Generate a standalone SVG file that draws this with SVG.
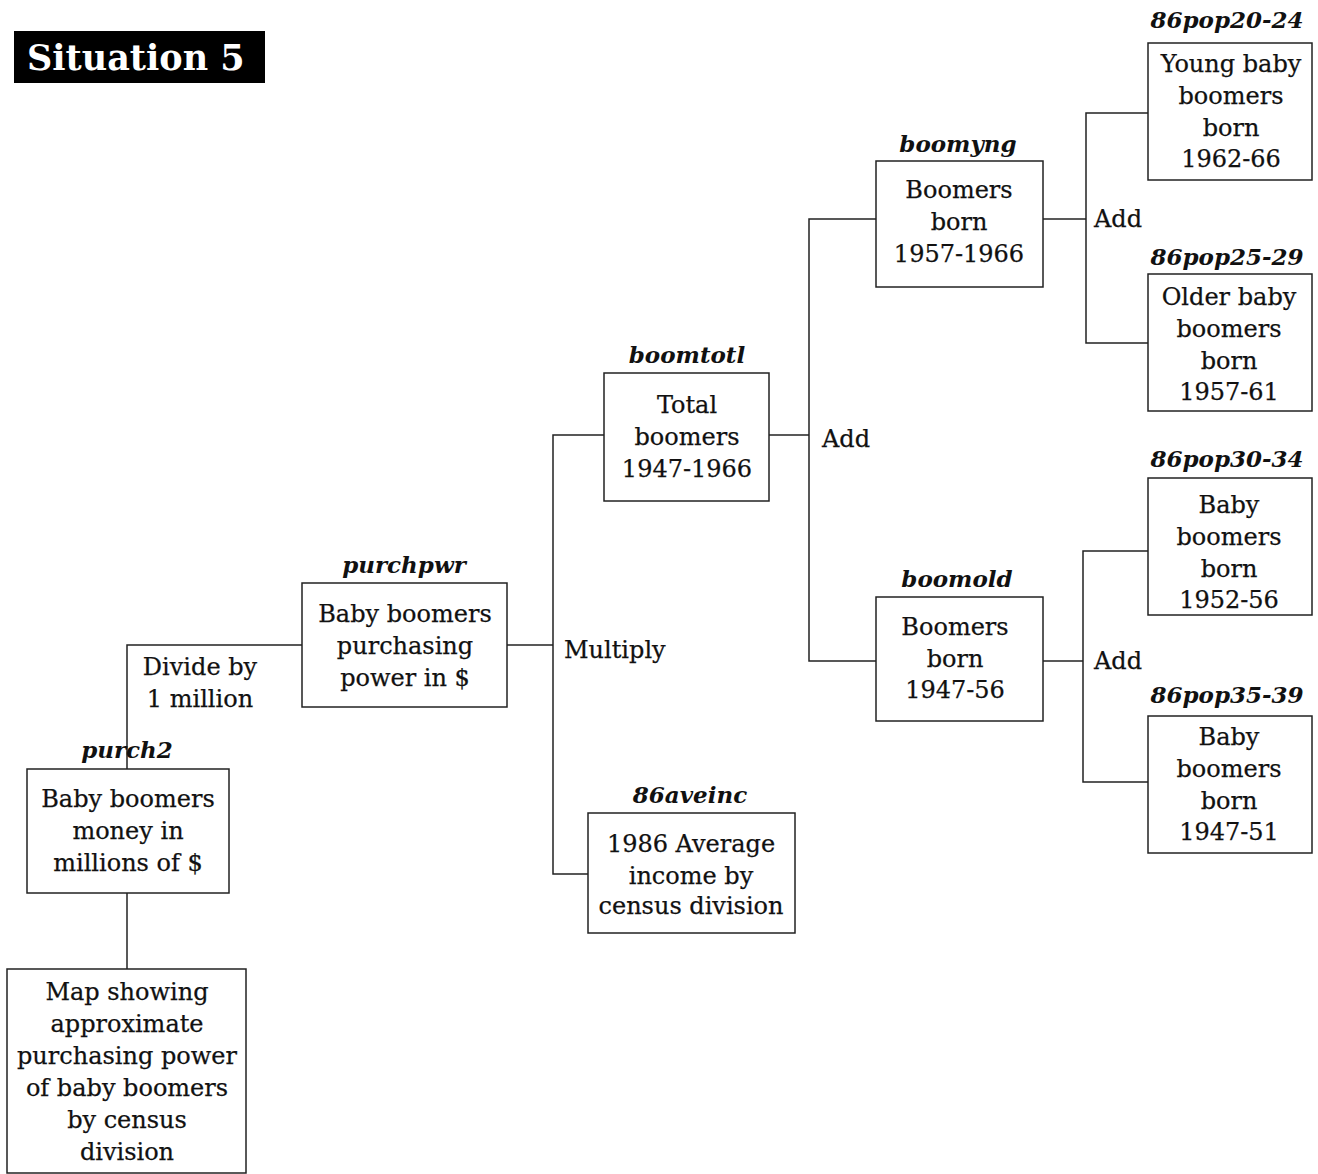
<svg xmlns="http://www.w3.org/2000/svg" width="1318" height="1174" viewBox="0 0 1318 1174">
  <style>
    .box { fill: #ffffff; stroke: #222222; stroke-width: 1.5; }
    .wire { fill: none; stroke: #222222; stroke-width: 1.5; }
    .t { font-family: "DejaVu Serif", "Liberation Serif", serif; font-size: 24px; fill: #111111; stroke: #111111; stroke-width: 0.25; }
    .c { text-anchor: middle; }
    .lab { font-family: "DejaVu Serif", "Liberation Serif", serif; font-size: 23px; font-weight: bold; font-style: italic; fill: #111111; text-anchor: middle; }
    .title { font-family: "DejaVu Serif", "Liberation Serif", serif; font-size: 35px; font-weight: bold; fill: #ffffff; }
  </style>
  <rect width="1318" height="1174" fill="#ffffff"/>

  <!-- heading -->
  <g id="heading">
    <rect x="14" y="31" width="251" height="52" fill="#000000"/>
    <text class="title" x="27" y="70">Situation 5</text>
  </g>

  <!-- connectors -->
  <g id="connectors">
    <path class="wire" d="M127 893 V969"/>
    <path class="wire" d="M127 769 V645 H302"/>
    <path class="wire" d="M507 645 H553"/>
    <path class="wire" d="M604 435 H553 V874 H588"/>
    <path class="wire" d="M769 435 H809"/>
    <path class="wire" d="M876 219 H809 V661 H876"/>
    <path class="wire" d="M1043 219 H1086"/>
    <path class="wire" d="M1148 113 H1086 V343 H1148"/>
    <path class="wire" d="M1043 661 H1083"/>
    <path class="wire" d="M1148 551 H1083 V782 H1148"/>
    <text class="t c" x="200" y="675">Divide by</text>
    <text class="t c" x="200" y="707">1 million</text>
    <text class="t" x="564" y="658">Multiply</text>
    <text class="t" x="822" y="447">Add</text>
    <text class="t" x="1094" y="227">Add</text>
    <text class="t" x="1094" y="669">Add</text>
  </g>

  <g id="map">
    <rect class="box" x="7" y="969" width="239" height="204"/>
    <text class="t c" x="127" y="1000">Map showing</text>
    <text class="t c" x="127" y="1032">approximate</text>
    <text class="t c" x="127" y="1064">purchasing power</text>
    <text class="t c" x="127" y="1096">of baby boomers</text>
    <text class="t c" x="127" y="1128">by census</text>
    <text class="t c" x="127" y="1160">division</text>
  </g>

  <g id="purch2">
    <text class="lab" x="127" y="758">purch2</text>
    <rect class="box" x="27" y="769" width="202" height="124"/>
    <text class="t c" x="128" y="807">Baby boomers</text>
    <text class="t c" x="128" y="839">money in</text>
    <text class="t c" x="128" y="871">millions of $</text>
  </g>

  <g id="purchpwr">
    <text class="lab" x="404" y="573">purchpwr</text>
    <rect class="box" x="302" y="583" width="205" height="124"/>
    <text class="t c" x="405" y="622">Baby boomers</text>
    <text class="t c" x="405" y="654">purchasing</text>
    <text class="t c" x="405" y="686">power in $</text>
  </g>

  <g id="boomtotl">
    <text class="lab" x="687" y="363">boomtotl</text>
    <rect class="box" x="604" y="373" width="165" height="128"/>
    <text class="t c" x="687" y="413">Total</text>
    <text class="t c" x="687" y="445">boomers</text>
    <text class="t c" x="687" y="477">1947-1966</text>
  </g>

  <g id="aveinc86">
    <text class="lab" x="690" y="803">86aveinc</text>
    <rect class="box" x="588" y="813" width="207" height="120"/>
    <text class="t c" x="691" y="852">1986 Average</text>
    <text class="t c" x="691" y="884">income by</text>
    <text class="t c" x="691" y="914">census division</text>
  </g>

  <g id="boomyng">
    <text class="lab" x="958" y="152">boomyng</text>
    <rect class="box" x="876" y="161" width="167" height="126"/>
    <text class="t c" x="959" y="198">Boomers</text>
    <text class="t c" x="959" y="230">born</text>
    <text class="t c" x="959" y="262">1957-1966</text>
  </g>

  <g id="boomold">
    <text class="lab" x="957" y="587">boomold</text>
    <rect class="box" x="876" y="597" width="167" height="124"/>
    <text class="t c" x="955" y="635">Boomers</text>
    <text class="t c" x="955" y="667">born</text>
    <text class="t c" x="955" y="698">1947-56</text>
  </g>

  <g id="pop20-24">
    <text class="lab" x="1227" y="28">86pop20-24</text>
    <rect class="box" x="1148" y="43" width="164" height="137"/>
    <text class="t c" x="1231" y="72">Young baby</text>
    <text class="t c" x="1231" y="104">boomers</text>
    <text class="t c" x="1231" y="136">born</text>
    <text class="t c" x="1231" y="167">1962-66</text>
  </g>

  <g id="pop25-29">
    <text class="lab" x="1227" y="265">86pop25-29</text>
    <rect class="box" x="1148" y="274" width="164" height="137"/>
    <text class="t c" x="1229" y="305">Older baby</text>
    <text class="t c" x="1229" y="337">boomers</text>
    <text class="t c" x="1229" y="369">born</text>
    <text class="t c" x="1229" y="400">1957-61</text>
  </g>

  <g id="pop30-34">
    <text class="lab" x="1227" y="467">86pop30-34</text>
    <rect class="box" x="1148" y="478" width="164" height="137"/>
    <text class="t c" x="1229" y="513">Baby</text>
    <text class="t c" x="1229" y="545">boomers</text>
    <text class="t c" x="1229" y="577">born</text>
    <text class="t c" x="1229" y="608">1952-56</text>
  </g>

  <g id="pop35-39">
    <text class="lab" x="1227" y="703">86pop35-39</text>
    <rect class="box" x="1148" y="716" width="164" height="137"/>
    <text class="t c" x="1229" y="745">Baby</text>
    <text class="t c" x="1229" y="777">boomers</text>
    <text class="t c" x="1229" y="809">born</text>
    <text class="t c" x="1229" y="840">1947-51</text>
  </g>
</svg>
